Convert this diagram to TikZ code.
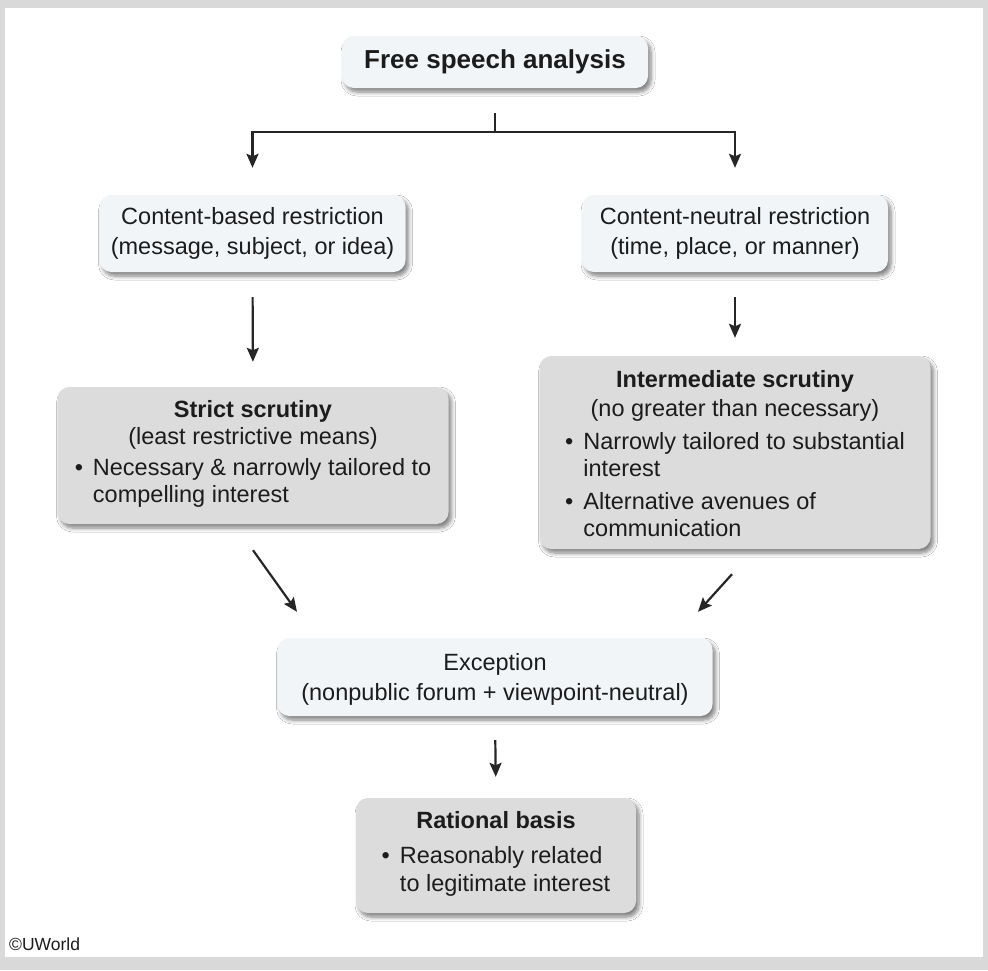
\documentclass[tikz,border=0pt]{standalone}
\usepackage{fontspec}
\setmainfont{Liberation Sans}
\usetikzlibrary{arrows.meta,shadows.blur}
\definecolor{lightbox}{HTML}{F1F5F8}
\definecolor{greybox}{HTML}{DCDCDC}
\definecolor{framegrey}{HTML}{D9D9D9}
\definecolor{ink}{HTML}{1C1C1C}
\definecolor{arrowc}{HTML}{262626}
\newcommand{\blist}[1]{\begin{tabular}[t]{@{}l@{\hspace{10pt}}l@{}}#1\end{tabular}}
\tikzset{
  basebox/.style={rounded corners=12pt, inner sep=0pt, align=center, text=ink,
    font=\fontsize{23.5}{27.5}\selectfont,
    blur shadow={shadow xshift=3pt, shadow yshift=-4pt, shadow blur steps=6,
      shadow blur radius=4pt, shadow opacity=50}},
  lbox/.style={basebox, fill=lightbox},
  gbox/.style={basebox, fill=greybox},
  conn/.style={draw=arrowc, line width=2.2pt},
  arr/.style={conn, -{Stealth[length=14pt,width=12pt,inset=2.5pt]}}
}
\begin{document}
\begin{tikzpicture}[x=1pt,y=-1pt]
\fill[framegrey] (0,0) rectangle (988,970);
\fill[white] (5,8) rectangle (983,957);
\useasboundingbox (0,0) rectangle (988,970);

\node[lbox, minimum width=306pt, minimum height=52pt,
  font=\fontsize{26}{30}\selectfont\bfseries] (title) at (495,62) {Free speech analysis};

\node[lbox, minimum width=306pt, minimum height=77pt] (cb) at (252.5,233.5)
  {Content-based restriction\\[2pt](message, subject, or idea)};
\node[lbox, minimum width=306pt, minimum height=77pt] (cn) at (735,233.5)
  {Content-neutral restriction\\[2pt](time, place, or manner)};

\node[gbox, minimum width=391pt, minimum height=137pt] (strict) at (253,455.5)
  {\textbf{Strict scrutiny}\\(least restrictive means)\\[3pt]%
   \blist{\textbullet & Necessary \& narrowly tailored to\\ & compelling interest}};

\node[gbox, minimum width=391pt, minimum height=193pt] (inter) at (735,452.5)
  {\rule{0pt}{27pt}\textbf{Intermediate scrutiny}\\[2pt](no greater than necessary)\\[5pt]%
   \blist{\textbullet & Narrowly tailored to substantial\\ & interest\\[5pt]
          \textbullet & Alternative avenues of\\ & communication}};

\node[lbox, minimum width=435pt, minimum height=78pt] (exc) at (495,677)
  {\rule{0pt}{22pt}Exception\\[2pt](nonpublic forum + viewpoint-neutral)};

\node[gbox, minimum width=280pt, minimum height=115pt] (rat) at (496,855.5)
  {\textbf{Rational basis}\\[8pt]%
   \blist{\textbullet & Reasonably related\\ & to legitimate interest}};

\node[anchor=base west, inner sep=0pt, text=ink,
  font=\fontsize{17.5}{19}\selectfont] (copy) at (9,950) {©UWorld};

% connectors
\coordinate (fork) at ([yshift=-44pt]title.south);
\draw[conn] ([yshift=-25pt]title.south) -- (fork);
\draw[arr] (fork) -| ([yshift=27pt]cb.north);
\draw[arr] (fork) -| ([yshift=27pt]cn.north);
\draw[arr, shorten <=25pt, shorten >=25pt] (cb.south) -- (strict.north);
\draw[arr, shorten <=25pt, shorten >=18pt] (cn.south) -- (inter.north);
\draw[arr] ([yshift=-26pt]strict.south) -- ([xshift=-198pt,yshift=26pt]exc.north);
\draw[arr] ([xshift=-3pt,yshift=-25pt]inter.south) -- ([xshift=203pt,yshift=26pt]exc.north);
\draw[arr, shorten <=24pt, shorten >=21pt] (exc.south) -- (rat.north);
\end{tikzpicture}
\end{document}
